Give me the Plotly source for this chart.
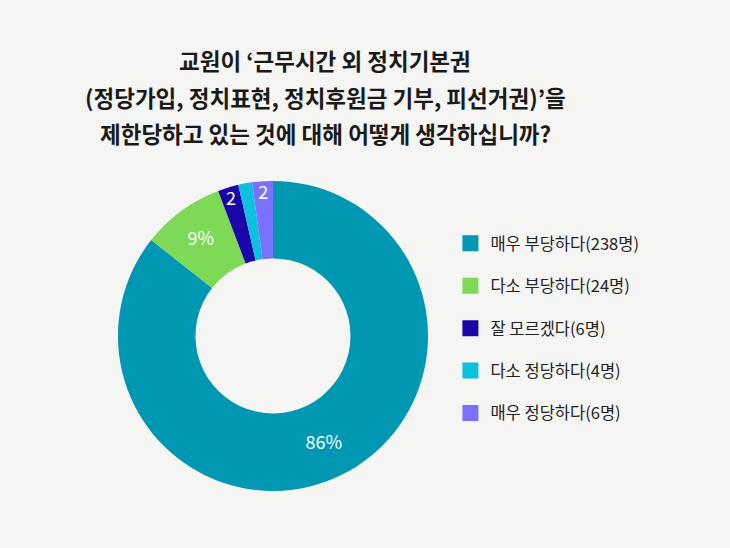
import plotly.graph_objects as go

answers = ['매우 부당하다', '다소 부당하다', '잘 모르겠다', '다소 정당하다', '매우 정당하다']
counts = [238, 24, 6, 4, 6]
slice_text = ['86%', '9%', '2', '', '2']
colors = ['#0097b2', '#7ed957', '#1a06a8', '#0cc0df', '#7a72ff']

title_lines = [
    "교원이 ‘근무시간 외 정치기본권",
    "(정당가입, 정치표현, 정치후원금 기부, 피선거권)’을",
    "제한당하고 있는 것에 대해 어떻게 생각하십니까?",
]

bg = '#f5f5f3'
font = 'Noto Sans CJK KR'

fig = go.Figure()

fig.add_trace(go.Pie(
    labels=answers, values=counts, text=slice_text,
    textinfo='text', textposition='inside', insidetextorientation='horizontal',
    textfont=dict(color='white', size=18, family=font),
    marker=dict(colors=colors, line=dict(width=0)),
    hole=0.5, sort=False, direction='clockwise', rotation=0,
    domain=dict(x=[0.1616, 0.5863], y=[0.104, 0.670]),
    showlegend=False, hoverinfo='label+value',
))

# legend entries, one group each so the gap can be set
for name, n, c in zip(answers, counts, colors):
    fig.add_trace(go.Scatter(
        x=[None], y=[None], mode='markers', name=f'{name}({n}명)',
        marker=dict(symbol='square', size=16, color=c),
        legendgroup=name, showlegend=True,
    ))

for i, line in enumerate(title_lines):
    fig.add_annotation(
        text=f'<b>{line}</b>', x=325 / 730, y=1 - (60 + i * 36.5) / 548,
        xref='paper', yref='paper', xanchor='center', yanchor='middle',
        showarrow=False, font=dict(size=22.5, color='#1a1a1a', family=font),
    )

fig.update_layout(
    width=730, height=548,
    margin=dict(l=0, r=0, t=0, b=0),
    paper_bgcolor=bg, plot_bgcolor=bg,
    xaxis=dict(visible=False), yaxis=dict(visible=False),
    uniformtext=dict(minsize=18, mode='show'),
    legend=dict(x=0.617, y=1 - 226 / 548, xanchor='left', yanchor='top',
                font=dict(size=16.5, color='#222', family=font),
                tracegroupgap=18, bgcolor='rgba(0,0,0,0)'),
)

fig.write_html("out.html", config={'displayModeBar': False},
               post_script="document.body.style.margin='0';")
